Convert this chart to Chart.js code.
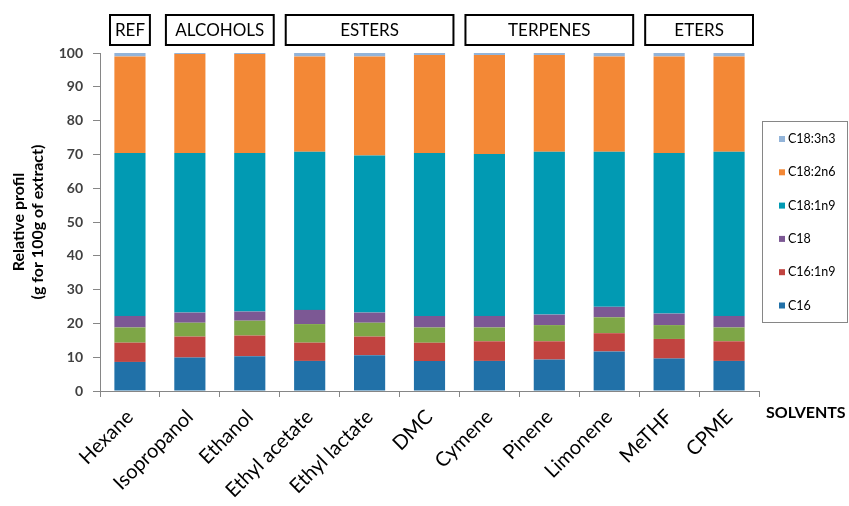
<!DOCTYPE html>
<html>
<head>
<meta charset="utf-8">
<script src="https://cdn.jsdelivr.net/npm/chart.js@4"></script>
<style>
  html, body { margin: 0; padding: 0; background: #fff; }
  #wrap { width: 849px; height: 506px; position: relative; }
</style>
</head>
<body>
<div id="wrap"><canvas id="chart" width="849" height="506"></canvas></div>
<script>
// solvents on the x axis
const categories = ["Hexane", "Isopropanol", "Ethanol", "Ethyl acetate", "Ethyl lactate", "DMC",
  "Cymene", "Pinene", "Limonene", "MeTHF", "CPME"];

// fatty acid profile (g for 100 g of extract), bottom to top
const c16 = [8.6, 9.9, 10.3, 8.9, 10.6, 8.9, 8.9, 9.3, 11.7, 9.6, 8.9];
const c16_1n9 = [5.7, 6.2, 6.1, 5.4, 5.5, 5.4, 5.8, 5.4, 5.4, 5.8, 5.8];
const other = [4.5, 4.1, 4.4, 5.5, 4.1, 4.5, 4.1, 4.8, 4.7, 4.1, 4.1]; // green, not in legend
const c18 = [3.4, 3.0, 2.7, 4.2, 3.0, 3.4, 3.4, 3.1, 3.1, 3.4, 3.4];
const c18_1n9 = [48.2, 47.2, 46.9, 46.8, 46.5, 48.2, 47.9, 48.2, 45.9, 47.5, 48.6];
const c18_2n6 = [28.6, 29.3, 29.3, 28.2, 29.3, 29.0, 29.3, 28.6, 28.2, 28.6, 28.2];
const c18_3n3 = [1.0, 0.3, 0.3, 1.0, 1.0, 0.6, 0.6, 0.6, 1.0, 1.0, 1.0];

// solvent families shown in the boxes above the bars
const groupNames = ["REF", "ALCOHOLS", "ESTERS", "TERPENES", "ETERS"];
const groupFirst = [0, 1, 3, 6, 9];
const groupLast = [0, 2, 5, 8, 10];

const yTicks = [0, 10, 20, 30, 40, 50, 60, 70, 80, 90, 100];

const FONT = "Lato, 'Open Sans', sans-serif";

// draws the family boxes, the legend box and the SOLVENTS label
const extrasPlugin = {
  id: "extras",
  afterDraw(chart) {
    const ctx = chart.ctx;
    const x = chart.scales.x;
    const area = chart.chartArea;
    const half = (x.getPixelForValue(1) - x.getPixelForValue(0)) / 2;

    ctx.save();
    // group boxes
    ctx.font = "17px " + FONT;
    ctx.textAlign = "center";
    ctx.textBaseline = "middle";
    ctx.strokeStyle = "#000";
    ctx.lineWidth = 2;
    groupNames.forEach((name, i) => {
      const inset = groupFirst[i] === groupLast[i] ? 10 : 6;
      const left = x.getPixelForValue(groupFirst[i]) - half + inset;
      const right = x.getPixelForValue(groupLast[i]) + half - inset;
      const top = area.top - 38;
      ctx.strokeRect(left, top, right - left, 30);
      ctx.fillStyle = "#000";
      ctx.fillText(name, (left + right) / 2, top + 16);
    });

    // legend
    const lx = area.right + 3;
    const ly = area.top + 68;
    ctx.lineWidth = 1;
    ctx.strokeStyle = "#868686";
    ctx.strokeRect(lx + 0.5, ly + 0.5, 849 - lx - 2, 201);
    ctx.font = "12.5px " + FONT;
    ctx.textAlign = "left";
    const items = chart.data.datasets.filter(d => d.inLegend).reverse();
    items.forEach((d, i) => {
      const cy = ly + 18 + i * 33.3;
      ctx.fillStyle = d.backgroundColor;
      ctx.fillRect(lx + 17, cy - 3, 6, 6);
      ctx.fillStyle = "#000";
      ctx.fillText(d.label, lx + 26, cy);
    });

    // axis name at the right end of the category axis
    ctx.font = "bold 16px " + FONT;
    ctx.fillStyle = "#000";
    ctx.fillText("SOLVENTS", area.right + 7, area.bottom + 22);
    ctx.restore();
  }
};

function makeSet(label, data, color, inLegend) {
  return { label: label, data: data, backgroundColor: color, borderWidth: 0, inLegend: inLegend };
}

const chart = new Chart(document.getElementById("chart").getContext("2d"), {
  type: "bar",
  data: {
    labels: categories,
    datasets: [
      makeSet("C16", c16, "#2171A8", true),
      makeSet("C16:1n9", c16_1n9, "#C14440", true),
      makeSet("Other", other, "#7EA647", false),
      makeSet("C18", c18, "#7C5894", true),
      makeSet("C18:1n9", c18_1n9, "#019AB3", true),
      makeSet("C18:2n6", c18_2n6, "#F38836", true),
      makeSet("C18:3n3", c18_3n3, "#93B4D9", true),
    ],
  },
  options: {
    responsive: false,
    animation: false,
    categoryPercentage: 1,
    barPercentage: 0.52,
    layout: { padding: { top: 53, right: 90, left: 0, bottom: 0 } },
    plugins: {
      legend: { display: false },
      tooltip: { enabled: false },
    },
    scales: {
      x: {
        stacked: true,
        grid: { drawOnChartArea: false, drawTicks: true, tickLength: 6, color: "#868686" },
        border: { color: "#868686" },
        ticks: {
          maxRotation: 45,
          minRotation: 45,
          color: "#000",
          font: { family: FONT, size: 20 },
          padding: 8,
        },
        afterFit: (scale) => { scale.height = 115; },
      },
      y: {
        stacked: true,
        min: 0,
        max: 100,
        afterBuildTicks: (scale) => { scale.ticks = yTicks.map(v => ({ value: v })); },
        grid: { drawOnChartArea: false, drawTicks: true, tickLength: 7, color: "#868686" },
        border: { color: "#868686" },
        ticks: {
          color: "#404040",
          font: { family: FONT, size: 14, weight: "bold" },
          padding: 10,
        },
        title: {
          display: true,
          text: ["Relative profil", "(g for 100g of extract)"],
          color: "#000",
          font: { family: FONT, size: 16, weight: "bold", lineHeight: 1.15 },
          padding: { top: 10, bottom: 4 },
        },
        afterFit: (scale) => { scale.width = 100; },
      },
    },
  },
  plugins: [extrasPlugin],
});
</script>
</body>
</html>
